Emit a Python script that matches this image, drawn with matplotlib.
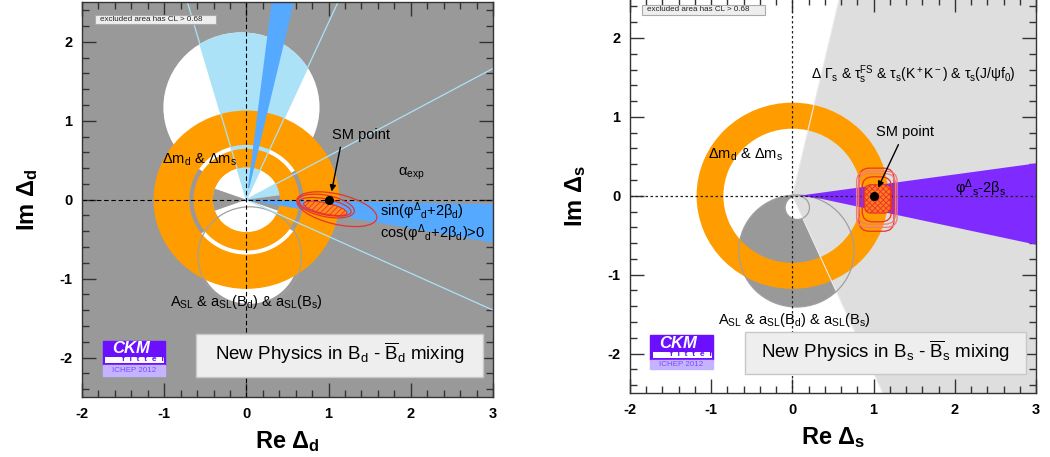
import numpy as np
import matplotlib
matplotlib.use('Agg')
import matplotlib.pyplot as plt
from matplotlib.patches import Circle, Wedge, Ellipse, Rectangle, FancyBboxPatch, Polygon
from matplotlib.ticker import MultipleLocator

plt.rcParams['font.family'] = ['Liberation Sans', 'DejaVu Sans']
plt.rcParams['mathtext.fontset'] = 'custom'
plt.rcParams['mathtext.rm'] = 'Liberation Sans'
plt.rcParams['mathtext.it'] = 'Liberation Sans:italic'
plt.rcParams['mathtext.bf'] = 'Liberation Sans:bold'
plt.rcParams['hatch.linewidth'] = 0.6

# ---- axis ticks ----
x_ticks = [-2, -1, 0, 1, 2, 3]
x_tick_labels = ['-2', '-1', '0', '1', '2', '3']
y_ticks = [-2, -1, 0, 1, 2]
y_tick_labels = ['-2', '-1', '0', '1', '2']

# ---- colours ----
gray = '#999999'
lightgray = '#dedede'
orange = '#ff9c00'
lightblue = '#abe2f8'
dodger = '#55aaff'
purple = '#7f2bff'
red = '#e8332a'
pink = '#f07a7a'

# ---- B_d panel values ----
d_orange_rings = [(0.41, 0.645), (0.695, 1.13)]          # (r_in, r_out)
d_white_disks = [((-0.06, 1.17), 0.95), ((0.03, -0.72), 0.6), ((0.0, 0.0), 0.7)]
d_gray_inner = [(-20, 20), (160, 200)]                    # bowtie, r < 0.41
d_gray_ring = [(-35, 32), (146, 218)]                     # sectors of the r~0.67 ring
d_alpha_fill = [(66, 106), (8, 30)]
d_alpha_lines = [106, 66, 29, -25]
d_sin_wedges = [(77, 83, 0.15), (-10.3, -1.1, 0.05)]      # (theta1, theta2, r_start)
d_asl_circle = ((0.04, -0.72), 0.63)
# red contours: centre x, centre y, width, height, angle
d_cont_x = [0.96, 0.97, 1.10]
d_cont_y = [-0.09, -0.08, -0.12]
d_cont_w = [0.64, 0.70, 1.00]
d_cont_h = [0.20, 0.27, 0.38]
d_cont_a = [-12, -12, -14]
d_fill = (0.96, -0.11, 0.54, 0.14, -13)
sm_point = (1.0, 0.0)

# ---- B_s panel values ----
s_orange_ring = (0.85, 1.18)
s_gamma_angles = (-66, 77)
s_asl_outer = ((0.05, -0.70), 0.71)
s_asl_inner = ((0.06, -0.15), 0.15)
s_phi_x = [0.08, 3.0, 3.0, 0.36]
s_phi_y = [0.0, 0.41, -0.62, -0.04]
# rounded box contours: x0, x1, y0, y1
s_cont_x0 = [0.86, 0.82, 0.79, 0.81]
s_cont_x1 = [1.22, 1.25, 1.29, 1.27]
s_cont_y0 = [-0.33, -0.45, -0.40, -0.36]
s_cont_y1 = [0.24, 0.35, 0.31, 0.28]
s_cont_col = [red, red, pink, pink]
s_fill = (0.89, 1.21, -0.22, 0.14)


def style_axes(ax, xlabel, ylabel, xlabelpad, ylabelpad):
    ax.set_xlim(-2, 3)
    ax.set_ylim(-2.5, 2.5)
    ax.set_xticks(x_ticks)
    ax.set_xticklabels(x_tick_labels, fontweight='bold')
    ax.set_yticks(y_ticks)
    ax.set_yticklabels(y_tick_labels, fontweight='bold')
    ax.xaxis.set_minor_locator(MultipleLocator(0.2))
    ax.yaxis.set_minor_locator(MultipleLocator(0.2))
    ax.tick_params(which='both', direction='in', top=True, right=True, width=1, color='#333333')
    ax.tick_params(which='major', length=10, labelsize=10.5, pad=7)
    ax.tick_params(which='minor', length=5)
    ax.set_xlabel(xlabel, fontsize=17, labelpad=xlabelpad)
    ax.set_ylabel(ylabel, fontsize=17, labelpad=ylabelpad)
    for s in ax.spines.values():
        s.set_linewidth(1.0)
        s.set_color('#333333')
        s.set_zorder(10)


def ckm_logo(ax, x0, x1, ytop, ymid, ybot):
    tr = ax.transAxes
    w = x1 - x0
    h = ytop - ymid
    ax.add_patch(Rectangle((x0, ymid), w, h, transform=tr, fc='#6a10ff', ec='#6a10ff', zorder=9))
    ax.add_patch(Rectangle((x0 + 0.04 * w, ymid + 0.08 * h), 0.94 * w, 0.24 * h,
                           transform=tr, fc='white', ec='none', zorder=9.5))
    ax.text(x0 + 0.45 * w, ymid + 0.67 * h, 'CKM', transform=tr, color='white',
            fontsize=12, fontweight='bold', style='italic', ha='center', va='center', zorder=10)
    ax.text(x0 + 0.66 * w, ymid + 0.20 * h, 'f  i  t  t  e  r', transform=tr, color='#6a10ff',
            fontsize=6, fontweight='bold', ha='center', va='center', zorder=10)
    ax.add_patch(Rectangle((x0, ybot), w, ymid - ybot, transform=tr, fc='#c6b3ff', ec='#c6b3ff', zorder=9))
    ax.text(x0 + 0.5 * w, (ymid + ybot) / 2, 'ICHEP 2012', transform=tr, color='#7a4cff',
            fontsize=5.8, ha='center', va='center', zorder=10)


def info_boxes(ax, title, bx0, bx1, by0, by1, ex0, ex1, ey0, ey1):
    tr = ax.transAxes
    ax.add_patch(Rectangle((bx0, by0), bx1 - bx0, by1 - by0, transform=tr, fc='#eeeeee',
                           ec='#c8c8c8', lw=1, zorder=9))
    ax.text((bx0 + bx1) / 2, (by0 + by1) / 2 + 0.005, title, transform=tr, fontsize=13.5,
            ha='center', va='center', zorder=10)
    ax.add_patch(Rectangle((ex0, ey0), ex1 - ex0, ey1 - ey0, transform=tr, fc='#eeeeee',
                           ec='#aaaaaa', lw=0.8, zorder=9))
    ax.text(ex0 + 0.012, (ey0 + ey1) / 2, 'excluded area has CL > 0.68', transform=tr,
            fontsize=5.8, ha='left', va='center', color='#222222', zorder=10)


fig = plt.figure(figsize=(10.5, 4.57), dpi=100)
ax1 = fig.add_axes([0.0781, 0.1313, 0.3914, 0.8634])
ax2 = fig.add_axes([0.600, 0.1400, 0.3867, 0.8633])

# ================= B_d panel =================
ax = ax1
ax.set_facecolor(gray)
white_patches = []
for c, r in d_white_disks:
    p = Circle(c, r, fc='white', ec='none', zorder=1)
    ax.add_patch(p)
    white_patches.append(p)
for t1, t2 in d_gray_ring:
    ax.add_patch(Wedge((0, 0), 0.72, t1, t2, width=0.31, fc=gray, ec='none', zorder=1.5))

clips = [white_patches[0],
         Circle((0, 0), d_orange_rings[0][0], transform=ax.transData),
         Wedge((0, 0), 0.72, d_gray_ring[0][1], d_gray_ring[1][0], transform=ax.transData)]
for t1, t2 in d_alpha_fill:
    for cp in clips:
        w = Wedge((0, 0), 4, t1, t2, fc=lightblue, ec='none', zorder=2)
        ax.add_patch(w)
        w.set_clip_path(cp)
for t1, t2 in d_gray_inner:
    ax.add_patch(Wedge((0, 0), d_orange_rings[0][0], t1, t2, fc=gray, ec='none', zorder=1.8))

for r_in, r_out in d_orange_rings:
    ax.add_patch(Wedge((0, 0), r_out, 0, 360, width=r_out - r_in, fc=orange, ec='none', zorder=3))
ax.add_patch(Circle(d_asl_circle[0], d_asl_circle[1], fc='none', ec='#a0a0a0', lw=0.9, zorder=3.5))

for t1, t2, r0 in d_sin_wedges:
    ax.add_patch(Wedge((0, 0), 4, t1, t2, width=4 - r0, fc=dodger, ec='none', zorder=4))
for a in d_alpha_lines:
    ax.plot([0, 5 * np.cos(np.radians(a))], [0, 5 * np.sin(np.radians(a))],
            color=lightblue, lw=0.9, zorder=4.5)

ax.axhline(0, color='black', lw=0.8, dashes=(4, 2.5), zorder=5)
ax.axvline(0, color='black', lw=0.8, dashes=(4, 2.5), zorder=5)

fx, fy, fw, fh, fa = d_fill
ax.add_patch(Ellipse((fx, fy), fw, fh, angle=fa, fc='#ff8a1e', ec=red, hatch='//////', lw=0.8, zorder=6))
for cx, cy, cw, ch, ca in zip(d_cont_x, d_cont_y, d_cont_w, d_cont_h, d_cont_a):
    ax.add_patch(Ellipse((cx, cy), cw, ch, angle=ca, fc='none', ec=red, lw=0.9, zorder=6))

ax.plot(*sm_point, 'o', color='black', ms=5.5, zorder=7)
ax.annotate('', xy=(1.03, 0.07), xytext=(1.15, 0.70),
            arrowprops=dict(arrowstyle='-|>', color='black', lw=1, mutation_scale=9), zorder=7)
ax.text(1.04, 0.82, 'SM point', fontsize=10.5, ha='left', va='center', zorder=7)
ax.text(-1.03, 0.50, r'$\mathregular{Δm_d}$ & $\mathregular{Δm_s}$', fontsize=10.5, va='center', zorder=7)
ax.text(1.84, 0.33, r'$\mathregular{α_{exp}}$', fontsize=10.5, va='center', zorder=7)
ax.text(1.62, -0.14, r'sin($\mathregular{φ^Δ{}_d}$+2$\mathregular{β_d}$)', fontsize=10.5, va='center', zorder=7)
ax.text(1.62, -0.43, r'cos($\mathregular{φ^Δ{}_d}$+2$\mathregular{β_d}$)>0', fontsize=10.5, va='center', zorder=7)
ax.text(-0.93, -1.30, r'$\mathregular{A_{SL}}$ & $\mathregular{a_{SL}(B_d)}$ & $\mathregular{a_{SL}(B_s)}$',
        fontsize=10.5, va='center', zorder=7)

info_boxes(ax, r'New Physics in $\mathregular{B_d}$ - $\mathregular{\overline{B}_d}$ mixing',
           0.278, 0.976, 0.050, 0.160, 0.032, 0.326, 0.946, 0.968)
ckm_logo(ax, 0.050, 0.202, 0.142, 0.082, 0.052)
style_axes(ax, r'$\mathbf{Re\ Δ_d}$', r'$\mathbf{Im\ Δ_d}$', 6, 14)

# ================= B_s panel =================
ax = ax2
ax.set_facecolor('white')
ax.add_patch(Circle(s_asl_outer[0], s_asl_outer[1], fc=gray, ec='none', zorder=1))
ax.add_patch(Circle(s_asl_inner[0], s_asl_inner[1], fc='white', ec='none', zorder=1.2))
ax.add_patch(Wedge((0, 0), 5, s_gamma_angles[0], s_gamma_angles[1], fc=lightgray, ec='none', zorder=1.5))
ax.add_patch(Circle(s_asl_outer[0], s_asl_outer[1], fc='none', ec='#a0a0a0', lw=0.9, zorder=3.5))
ax.add_patch(Circle(s_asl_inner[0], s_asl_inner[1], fc='none', ec='#a0a0a0', lw=0.9, zorder=3.5))

r_in, r_out = s_orange_ring
ax.add_patch(Wedge((0, 0), r_out, 0, 360, width=r_out - r_in, fc=orange, ec='none', zorder=3))
for a in s_gamma_angles:
    ax.plot([0, 5 * np.cos(np.radians(a))], [0, 5 * np.sin(np.radians(a))],
            color='#ececec', lw=0.8, zorder=3.2)

ax.add_patch(Polygon(np.column_stack([s_phi_x, s_phi_y]), closed=True, fc=purple, ec='none', zorder=4))

ax.axhline(0, color='#222222', lw=0.9, dashes=(2, 2), zorder=5)
ax.axvline(0, color='#222222', lw=0.9, dashes=(2, 2), zorder=5)

x0, x1, y0, y1 = s_fill
ax.add_patch(FancyBboxPatch((x0, y0), x1 - x0, y1 - y0, boxstyle='round,pad=0,rounding_size=0.08',
                            fc='#ff7a1e', ec=red, hatch='xxxxxx', lw=0.8, zorder=6))
for bx0, bx1, by0, by1, col in zip(s_cont_x0, s_cont_x1, s_cont_y0, s_cont_y1, s_cont_col):
    ax.add_patch(FancyBboxPatch((bx0, by0), bx1 - bx0, by1 - by0, boxstyle='round,pad=0,rounding_size=0.13',
                                fc='none', ec=col, lw=0.9, zorder=6))

ax.plot(*sm_point, 'o', color='black', ms=5.5, zorder=7)
ax.annotate('', xy=(1.04, 0.07), xytext=(1.32, 0.68),
            arrowprops=dict(arrowstyle='-|>', color='black', lw=1, mutation_scale=9), zorder=7)
ax.text(1.03, 0.81, 'SM point', fontsize=10.5, ha='left', va='center', zorder=7)
ax.text(0.23, 1.53, r'$\mathregular{Δ\ Γ_s}$ & $\mathregular{τ_s^{FS}}$ & $\mathregular{τ_s(K^+K^-)}$ & $\mathregular{τ_s(J/ψf_0)}$',
        fontsize=10, va='center', zorder=7)
ax.text(-1.04, 0.52, r'$\mathregular{Δm_d}$ & $\mathregular{Δm_s}$', fontsize=10.5, va='center', zorder=7)
ax.text(2.0, 0.10, r'$\mathregular{φ^Δ{}_s}$-2$\mathregular{β_s}$', fontsize=10.5, va='center', zorder=7)
ax.text(-0.92, -1.58, r'$\mathregular{A_{SL}}$ & $\mathregular{a_{SL}(B_d)}$ & $\mathregular{a_{SL}(B_s)}$',
        fontsize=10.5, va='center', zorder=7)

info_boxes(ax, r'New Physics in $\mathregular{B_s}$ - $\mathregular{\overline{B}_s}$ mixing',
           0.282, 0.976, 0.048, 0.154, 0.030, 0.332, 0.958, 0.984)
ckm_logo(ax, 0.050, 0.204, 0.146, 0.084, 0.060)
style_axes(ax, r'$\mathbf{Re\ Δ_s}$', r'$\mathbf{Im\ Δ_s}$', 6, 14)

fig.savefig('out.png', dpi=100)
